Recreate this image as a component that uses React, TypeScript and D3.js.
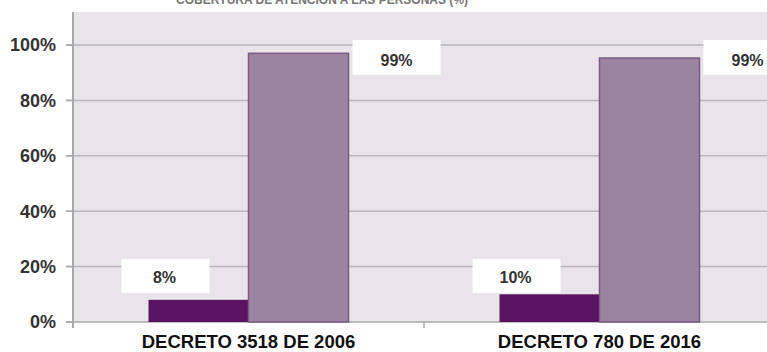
import React from "react";
import * as d3 from "d3";

const categories = ["DECRETO 3518 DE 2006", "DECRETO 780 DE 2016"];
const seriesA = [0.08, 0.1];
const seriesB = [0.97, 0.953];
const labelsA = ["8%", "10%"];
const labelsB = ["99%", "99%"];
const yTicks = [0, 0.2, 0.4, 0.6, 0.8, 1.0];
const title = "COBERTURA DE ATENCIÓN A LAS PERSONAS (%)";

const W = 767;
const H = 352;
const plotLeft = 73;
const plotRight = 775;
const plotTop = 12;
const baseY = 322;

export default function App() {
  const y = d3.scaleLinear().domain([0, 1]).range([baseY, 45]);
  const x = d3.scaleBand().domain(categories).range([plotLeft, plotRight]).padding(0);
  const barW = 100;
  const font = "'Liberation Sans', Arial, sans-serif";
  return (
    <svg width={W} height={H} style={{ position: "absolute", left: 0, top: 0, background: "#fff" }}>
      <rect x={plotLeft} y={plotTop} width={W - plotLeft} height={baseY - plotTop} fill="#E8E4EA" />
      <text x={322} y={4} textAnchor="middle" fontFamily={font} fontSize={12} fontWeight="bold" fill="#777">
        {title}
      </text>
      {yTicks.map((t) => (
        <g key={t}>
          {t > 0 && (
            <line x1={66} x2={W} y1={y(t)} y2={y(t)} stroke="#B9B5BC" strokeWidth={1.5} />
          )}
          <line x1={66} x2={plotLeft} y1={y(t)} y2={y(t)} stroke="#A9A9A9" strokeWidth={1.5} />
          <text x={56} y={y(t)} dy="0.35em" textAnchor="end" fontFamily={font} fontSize={18} fontWeight="bold" fill="#333">
            {d3.format(".0%")(t)}
          </text>
        </g>
      ))}
      <line x1={plotLeft} x2={plotLeft} y1={plotTop} y2={328} stroke="#A9A9A9" strokeWidth={2} />
      <line x1={66} x2={W} y1={baseY} y2={baseY} stroke="#A9A9A9" strokeWidth={1.5} />
      {categories.slice(1).map((c) => (
        <line key={c} x1={x(c)!} x2={x(c)!} y1={baseY} y2={328} stroke="#A9A9A9" strokeWidth={1.5} />
      ))}
      {categories.map((c, i) => {
        const cx = x(c)! + x.bandwidth() / 2;
        return (
          <g key={c}>
            <rect x={cx - barW} y={y(seriesA[i])} width={barW} height={baseY - y(seriesA[i])} fill="#5B1260" />
            <rect x={cx} y={y(seriesB[i])} width={barW} height={baseY - y(seriesB[i])} fill="#9B84A0" stroke="#7A5A84" strokeWidth={1.5} />
            <rect x={cx - 127} y={259} width={88} height={34} fill="#fff" />
            <text x={cx - 84} y={277} dy="0.35em" textAnchor="middle" fontFamily={font} fontSize={16} fontWeight="bold" fill="#333">
              {labelsA[i]}
            </text>
            <rect x={cx + 104} y={40} width={88} height={35} fill="#fff" />
            <text x={cx + 148} y={60} dy="0.35em" textAnchor="middle" fontFamily={font} fontSize={16} fontWeight="bold" fill="#333">
              {labelsB[i]}
            </text>
            <text x={cx} y={342} dy="0.35em" textAnchor="middle" fontFamily={font} fontSize={18.5} fontWeight="bold" fill="#111">
              {c}
            </text>
          </g>
        );
      })}
    </svg>
  );
}
